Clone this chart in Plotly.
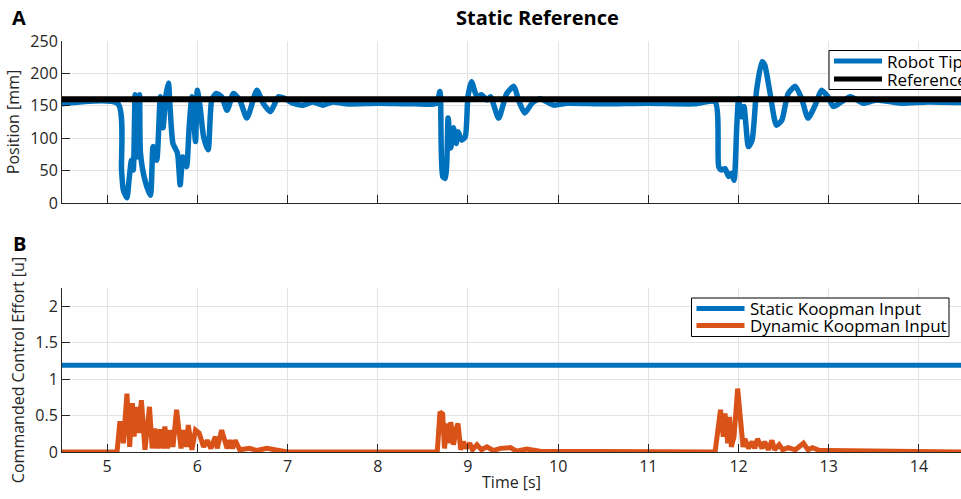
import plotly.graph_objects as go

# ---- Panel A: robot tip position vs. static reference ----
t_tip = [4.5, 5.12, 5.16, 5.18, 5.22, 5.24, 5.27, 5.29, 5.31, 5.33, 5.36, 5.37, 5.42, 5.48,
         5.51, 5.55, 5.59, 5.62, 5.65, 5.68, 5.70, 5.73, 5.78, 5.81, 5.84, 5.88, 5.91, 5.94,
         5.98, 6.00, 6.03, 6.07, 6.12, 6.16, 6.21, 6.27, 6.33, 6.40, 6.47, 6.55, 6.66, 6.73,
         6.81, 6.90, 6.96, 7.06, 7.17, 7.28, 7.39, 7.50, 7.65, 8.0, 8.4, 8.65,
         8.69, 8.72, 8.75, 8.78, 8.81, 8.84, 8.87, 8.89, 8.93, 8.97, 9.00, 9.04, 9.10, 9.15,
         9.21, 9.25, 9.34, 9.43, 9.51, 9.56, 9.63, 9.71, 9.80, 9.95, 10.1, 10.5, 11.0, 11.5, 11.74,
         11.78, 11.81, 11.85, 11.89, 11.92, 11.95, 11.98, 12.00, 12.03, 12.06, 12.11, 12.15,
         12.20, 12.26, 12.29, 12.35, 12.42, 12.48, 12.55, 12.63, 12.70, 12.77, 12.85, 12.92,
         12.99, 13.05, 13.12, 13.24, 13.38, 13.53, 13.8, 14.1, 14.47]
pos_tip = [153, 153, 51, 20, 8, 31, 66, 51, 167, 71, 167, 77, 35, 12,
           87, 66, 164, 116, 164, 185, 143, 92, 77, 28, 71, 56, 118, 164,
           95, 174, 149, 102, 82, 159, 169, 164, 143, 169, 159, 131, 174, 154,
           141, 164, 162, 154, 151, 156, 151, 156, 153, 154, 153, 154,
           172, 41, 38, 131, 85, 116, 92, 110, 97, 102, 164, 187, 164, 167,
           159, 164, 131, 169, 180, 159, 139, 154, 161, 151, 154, 153, 154, 153, 156,
           56, 51, 53, 41, 46, 35, 118, 161, 133, 149, 87, 97,
           174, 218, 213, 169, 120, 128, 169, 180, 161, 131, 151, 174,
           164, 149, 154, 164, 154, 159, 154, 156, 155]
t_ref = [4.5, 14.47]
pos_ref = [160, 160]

# ---- Panel B: commanded control effort ----
t_static = [4.5, 14.47]
u_static = [1.19, 1.19]
t_dyn = [4.5, 5.11, 5.14, 5.16, 5.18, 5.22, 5.25, 5.28, 5.30, 5.32, 5.35, 5.38, 5.42, 5.47,
         5.50, 5.53, 5.56, 5.59, 5.62, 5.64, 5.67, 5.70, 5.73, 5.77, 5.82, 5.85, 5.88, 5.90,
         5.94, 5.98, 6.02, 6.07, 6.11, 6.15, 6.20, 6.22, 6.27, 6.33, 6.36, 6.39, 6.42, 6.47,
         6.58, 6.66, 6.77, 6.84, 7.0, 8.66,
         8.69, 8.72, 8.74, 8.77, 8.79, 8.81, 8.84, 8.87, 8.89, 8.92, 8.95, 8.98, 9.02, 9.05,
         9.10, 9.15, 9.21, 9.28, 9.36, 9.47, 9.54, 9.65, 9.80, 11.74,
         11.78, 11.80, 11.83, 11.85, 11.88, 11.90, 11.92, 11.95, 11.99, 12.02, 12.05, 12.07,
         12.11, 12.15, 12.18, 12.21, 12.26, 12.29, 12.33, 12.37, 12.40, 12.45, 12.49, 12.55,
         12.63, 12.72, 12.77, 12.82, 12.90, 12.98, 14.47]
u_dyn = [0, 0, 0.39, 0.39, 0.12, 0.80, 0.07, 0.67, 0.21, 0.62, 0.26, 0.71, 0.03, 0.62,
         0.05, 0.32, 0.05, 0.31, 0.05, 0.35, 0.05, 0.30, 0.07, 0.58, 0.05, 0.30, 0.07, 0.37,
         0.03, 0.30, 0.26, 0.07, 0.16, 0.05, 0.21, 0.05, 0.30, 0.05, 0.16, 0.05, 0.16, 0.03,
         0.05, 0.02, 0.05, 0.03, 0, 0,
         0.55, 0.52, 0.05, 0.39, 0.12, 0.41, 0.10, 0.32, 0.39, 0.03, 0.14, 0.05, 0.12, 0.03,
         0.10, 0.03, 0.07, 0.02, 0.05, 0.06, 0.01, 0.04, 0.01, 0,
         0.35, 0.58, 0.21, 0.53, 0.12, 0.48, 0.07, 0.21, 0.87, 0.39, 0.07, 0.18,
         0.05, 0.14, 0.05, 0.18, 0.05, 0.14, 0.03, 0.16, 0.03, 0.10, 0.03, 0.06,
         0.03, 0.12, 0.03, 0.06, 0.02, 0.02, 0]

x_ticks = [5, 6, 7, 8, 9, 10, 11, 12, 13, 14]
yA_ticks = [0, 50, 100, 150, 200, 250]
yB_ticks = [0, 0.5, 1, 1.5, 2]

BLUE = "#0072BD"
ORANGE = "#D95319"
AXC = "#262626"
GRID = "#E3E3E3"
FONT = "Open Sans"
W, H = 961, 499
L = 62


def py(v):
    return (H - v) / H


def px(v):
    return (v - L) / (W - L)


fig = go.Figure()
fig.add_trace(go.Scatter(x=t_tip, y=pos_tip, mode="lines", name="Robot Tip",
                         line=dict(color=BLUE, width=5.5, shape="spline", smoothing=0.6),
                         xaxis="x", yaxis="y"))
fig.add_trace(go.Scatter(x=t_ref, y=pos_ref, mode="lines", name="Reference",
                         line=dict(color="black", width=6), xaxis="x", yaxis="y"))
fig.add_trace(go.Scatter(x=t_static, y=u_static, mode="lines", name="Static Koopman Input",
                         line=dict(color=BLUE, width=5), xaxis="x2", yaxis="y2"))
fig.add_trace(go.Scatter(x=t_dyn, y=u_dyn, mode="lines", name="Dynamic Koopman Input",
                         line=dict(color=ORANGE, width=5), xaxis="x2", yaxis="y2"))

xcommon = dict(range=[4.5, 14.466], tickvals=x_ticks, ticks="inside", ticklen=8, tickcolor=AXC,
               showline=True, linecolor=AXC, linewidth=1, showgrid=True, gridcolor=GRID,
               gridwidth=1, zeroline=False, tickfont=dict(family=FONT, size=16, color=AXC),
               automargin=False)
ycommon = dict(ticks="inside", ticklen=8, tickcolor=AXC, showline=True, linecolor=AXC,
               linewidth=1, showgrid=True, gridcolor=GRID, gridwidth=1, zeroline=False,
               tickfont=dict(family=FONT, size=16, color=AXC), automargin=False)

# Compact boxed legends drawn as shapes + text labels
shapes = []
annotations = [
    dict(text="<b>Static Reference</b>", x=px(537), y=py(17), xref="paper", yref="paper",
         xanchor="center", yanchor="middle", showarrow=False,
         font=dict(family=FONT, size=20, color="black")),
    dict(text="<b>A</b>", x=px(19), y=py(17), xref="paper", yref="paper",
         xanchor="center", yanchor="middle", showarrow=False,
         font=dict(family=FONT, size=20, color="black")),
    dict(text="<b>B</b>", x=px(19), y=py(243), xref="paper", yref="paper",
         xanchor="center", yanchor="middle", showarrow=False,
         font=dict(family=FONT, size=20, color="black")),
]


def add_legend(box, entries):
    x0, y0, x1, y1 = box
    shapes.append(dict(type="rect", xref="paper", yref="paper", x0=px(x0), x1=px(x1),
                       y0=py(y1), y1=py(y0), line=dict(color="black", width=1),
                       fillcolor="white", layer="above"))
    for (label, color, ypix) in entries:
        shapes.append(dict(type="line", xref="paper", yref="paper", x0=px(x0 + 5), x1=px(x0 + 53),
                           y0=py(ypix), y1=py(ypix), line=dict(color=color, width=5),
                           layer="above"))
        annotations.append(dict(text=label, x=px(x0 + 56), y=py(ypix), xref="paper",
                                yref="paper", xanchor="left", yanchor="middle",
                                showarrow=False,
                                font=dict(family=FONT, size=17, color="black")))


add_legend((829, 50.5, 1010, 89.5), [("Robot Tip", BLUE, 61), ("Reference", "black", 79)])
add_legend((691.5, 298, 949, 336.5), [("Static Koopman Input", BLUE, 308.5),
                                       ("Dynamic Koopman Input", ORANGE, 325.5)])

fig.update_layout(
    width=W, height=H,
    margin=dict(l=L, r=0, t=0, b=0),
    paper_bgcolor="white", plot_bgcolor="white",
    font=dict(family=FONT, size=16, color=AXC),
    showlegend=False,
    xaxis=dict(**xcommon, anchor="y", showticklabels=False),
    yaxis=dict(**ycommon, domain=[py(203), py(41)], range=[0, 250], tickvals=yA_ticks,
               title=dict(text="Position [mm]", standoff=6,
                          font=dict(family=FONT, size=16, color=AXC))),
    xaxis2=dict(**xcommon, anchor="y2",
                title=dict(text="Time [s]", standoff=0, font=dict(family=FONT, size=16, color=AXC))),
    yaxis2=dict(**ycommon, domain=[py(452), py(288)], range=[0, 2.25], tickvals=yB_ticks,
                ticktext=["0", "0.5", "1", "1.5", "2"],
                title=dict(text="Commanded Control Effort [u]", standoff=6,
                           font=dict(family=FONT, size=16, color=AXC))),
    shapes=shapes,
    annotations=annotations,
)

fig.write_html("out.html")
